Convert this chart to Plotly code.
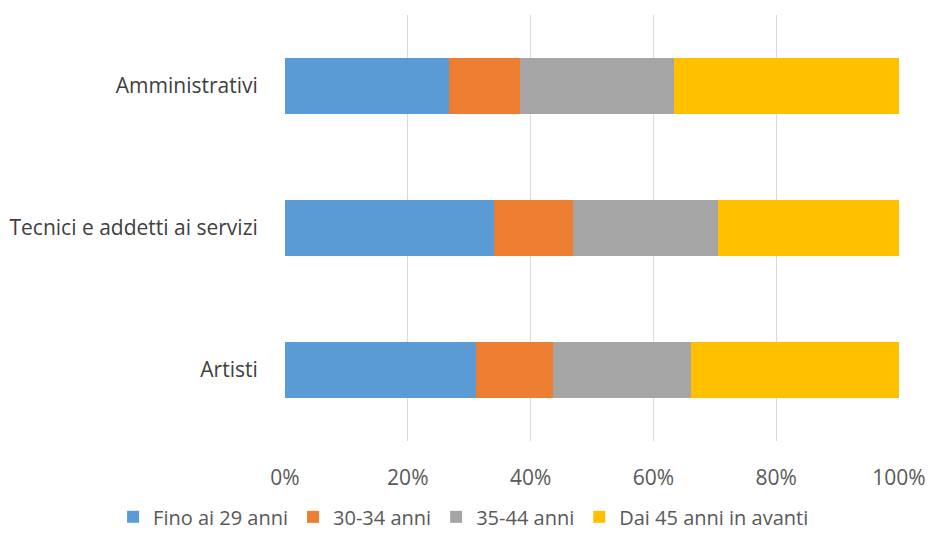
import plotly.graph_objects as go

categories = ["Artisti", "Tecnici e addetti ai servizi", "Amministrativi"]
series_names = ["Fino ai 29 anni", "30-34 anni", "35-44 anni", "Dai 45 anni in avanti"]
fino_29 = [31.1, 34.0, 26.7]
anni_30_34 = [12.6, 12.9, 11.5]
anni_35_44 = [22.5, 23.7, 25.2]
dai_45 = [33.8, 29.4, 36.6]
tick_vals = [0, 20, 40, 60, 80, 100]
tick_text = ["0%", "20%", "40%", "60%", "80%", "100%"]

colors = ["#5b9bd5", "#ed7d31", "#a5a5a5", "#ffc000"]
values = [fino_29, anni_30_34, anni_35_44, dai_45]

fig = go.Figure()
for name, vals, col in zip(series_names, values, colors):
    fig.add_trace(go.Bar(
        y=categories, x=vals, name=name, orientation="h",
        marker=dict(color=col, line=dict(width=0)),
    ))

fig.update_layout(
    barmode="stack",
    bargap=0.6,
    width=929, height=534,
    margin=dict(l=285, r=30, t=15, b=93, autoexpand=False),
    paper_bgcolor="white", plot_bgcolor="white",
    font=dict(family="Open Sans", size=21, color="#595959"),
    legend=dict(
        orientation="h", xref="paper", x=-0.28, xanchor="left",
        yref="paper", y=-0.178, yanchor="middle",
        font=dict(size=20, color="#595959"), traceorder="normal",
        itemwidth=30, tracegroupgap=0,
    ),
    xaxis=dict(
        range=[0, 100], tickvals=tick_vals, ticktext=tick_text,
        showgrid=True, gridcolor="#d9d9d9", gridwidth=1,
        zeroline=False, showline=False, automargin=False,
        ticks="outside", ticklen=18, tickcolor="rgba(0,0,0,0)",
        tickfont=dict(size=21, color="#595959"),
    ),
    yaxis=dict(
        showgrid=False, showline=False, zeroline=False, automargin=False,
        ticks="outside", ticklen=22, tickcolor="rgba(0,0,0,0)",
        tickfont=dict(size=21, color="#404040"),
    ),
)

fig.write_html("out.html")
